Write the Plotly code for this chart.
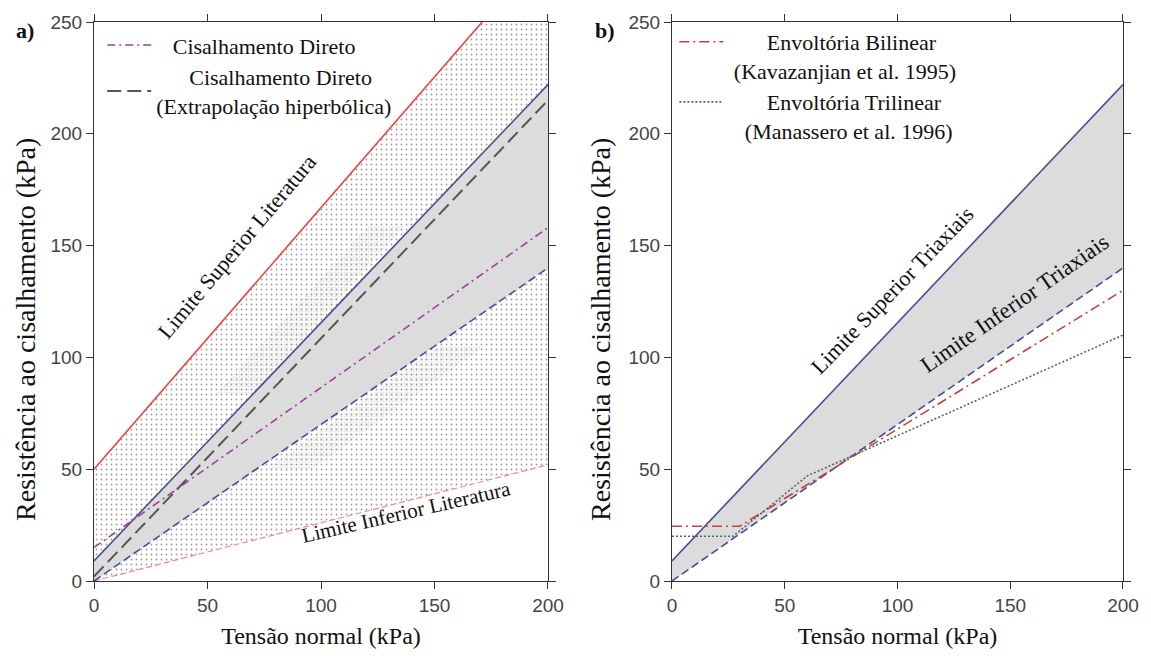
import plotly.graph_objects as go

# ---------------- data (kPa) ----------------
sigma_ends = [0, 200]                     # normal stress at line ends

# panel a)
lit_sup_x = [0, 171]                      # Limite Superior Literatura
lit_sup_y = [50, 250]
lit_inf_y = [0, 52]                       # Limite Inferior Literatura
tri_sup_y = [9, 222]                      # Limite Superior Triaxiais
tri_inf_y = [0, 140]                      # Limite Inferior Triaxiais
cd_y = [15, 158]                          # Cisalhamento Direto
cd_hip_y = [2, 215]                       # Cisalhamento Direto (extrapolação hiperbólica)

# literature region polygon (upper limit clipped at top of axis)
lit_region_x = [0, 171, 200, 200, 0]
lit_region_y = [50, 250, 250, 52, 0]

# denser dotted bands (data clouds) in panel a
band1_x = [54, 70, 137, 121]
band1_y = [84, 84, 159, 159]
band2_x = [76, 96, 172, 152]
band2_y = [50, 50, 105, 105]

# panel b)
bil_x = [0, 30, 200]                      # Envoltória Bilinear (Kavazanjian et al. 1995)
bil_y = [24.5, 24.5, 130]
tril_x = [0, 27, 60, 200]                 # Envoltória Trilinear (Manassero et al. 1996)
tril_y = [20, 20, 47, 110]

x_ticks = [0, 50, 100, 150, 200]
y_ticks = [0, 50, 100, 150, 200, 250]

SERIF = "Liberation Serif"
SANS = "Liberation Sans"

BLUE = "#4b4b96"
RED = "#e8453c"

fig = go.Figure()

def band(xs_top, ys_top, ys_bot, xa, ya, color):
    x = list(xs_top) + list(reversed(xs_top))
    y = list(ys_top) + list(reversed(ys_bot))
    return go.Scatter(x=x, y=y, fill="toself", fillcolor=color, mode="none",
                      xaxis=xa, yaxis=ya, showlegend=False, hoverinfo="skip")

# ---- panel a ----
fig.add_trace(go.Scatter(x=lit_region_x, y=lit_region_y, fill="toself", mode="none",
                         fillcolor="white",
                         fillpattern=dict(shape=".", size=5, solidity=0.1, fgcolor="#333333", bgcolor="white"),
                         xaxis="x", yaxis="y", showlegend=False, hoverinfo="skip"))
for bx, by in [(band1_x, band1_y), (band2_x, band2_y)]:
    fig.add_trace(go.Scatter(x=bx, y=by, fill="toself", mode="none",
                             fillcolor="rgba(255,255,255,0)",
                             fillpattern=dict(shape=".", size=3, solidity=0.4,
                                              fgcolor="rgba(140,140,140,0.5)",
                                              bgcolor="rgba(255,255,255,0)"),
                             xaxis="x", yaxis="y", showlegend=False, hoverinfo="skip"))
fig.add_trace(band(sigma_ends, tri_sup_y, tri_inf_y, "x", "y", "#dcdcdc"))

fig.add_trace(go.Scatter(x=sigma_ends, y=lit_inf_y, mode="lines", xaxis="x", yaxis="y",
                         line=dict(color="#f08a8a", width=1.2, dash="6px,3px"), showlegend=False))
fig.add_trace(go.Scatter(x=lit_sup_x, y=lit_sup_y, mode="lines", xaxis="x", yaxis="y",
                         line=dict(color=RED, width=1.6), showlegend=False))
fig.add_trace(go.Scatter(x=sigma_ends, y=tri_inf_y, mode="lines", xaxis="x", yaxis="y",
                         line=dict(color=BLUE, width=1.6, dash="8px,4px"), showlegend=False))
fig.add_trace(go.Scatter(x=sigma_ends, y=tri_sup_y, mode="lines", xaxis="x", yaxis="y",
                         line=dict(color=BLUE, width=1.6), showlegend=False))
fig.add_trace(go.Scatter(x=sigma_ends, y=cd_y, mode="lines", xaxis="x", yaxis="y",
                         name="&nbsp;&nbsp;&nbsp;Cisalhamento Direto", legend="legend",
                         line=dict(color="#a0409c", width=1.6, dash="8px,4px,2px,4px")))
fig.add_trace(go.Scatter(x=sigma_ends, y=cd_hip_y, mode="lines", xaxis="x", yaxis="y",
                         name="&nbsp;&nbsp;&nbsp;&nbsp;&nbsp;&nbsp;Cisalhamento Direto<br>(Extrapolação hiperbólica)",
                         legend="legend",
                         line=dict(color="#555555", width=2, dash="14px,6px")))

# ---- panel b ----
fig.add_trace(band(sigma_ends, tri_sup_y, tri_inf_y, "x2", "y2", "#dcdcdc"))
fig.add_trace(go.Scatter(x=sigma_ends, y=tri_inf_y, mode="lines", xaxis="x2", yaxis="y2",
                         line=dict(color=BLUE, width=1.6, dash="8px,4px"), showlegend=False))
fig.add_trace(go.Scatter(x=sigma_ends, y=tri_sup_y, mode="lines", xaxis="x2", yaxis="y2",
                         line=dict(color=BLUE, width=1.6), showlegend=False))
fig.add_trace(go.Scatter(x=bil_x, y=bil_y, mode="lines", xaxis="x2", yaxis="y2",
                         name="&nbsp;&nbsp;&nbsp;&nbsp;&nbsp;&nbsp;&nbsp;Envoltória Bilinear<br>&nbsp;(Kavazanjian et al. 1995)",
                         legend="legend2",
                         line=dict(color="#c8403c", width=1.6, dash="10px,4px,2px,4px")))
fig.add_trace(go.Scatter(x=tril_x, y=tril_y, mode="lines", xaxis="x2", yaxis="y2",
                         name="&nbsp;&nbsp;&nbsp;&nbsp;&nbsp;&nbsp;&nbsp;Envoltória Trilinear<br>&nbsp;&nbsp;&nbsp;(Manassero et al. 1996)",
                         legend="legend2",
                         line=dict(color="#4f6b5c", width=1.6, dash="2px,2px")))

axis_common = dict(range=[0, 200], tickvals=x_ticks, ticks="outside", ticklen=7, tickcolor="#333",
                   showline=True, linecolor="#333", linewidth=1, mirror="ticks", showgrid=False,
                   zeroline=False, tickfont=dict(family=SANS, size=19, color="#444"),
                   title=dict(text="Tensão normal (kPa)", font=dict(family=SERIF, size=24, color="#111"),
                              standoff=12))
yaxis_common = dict(range=[0, 250], tickvals=y_ticks, ticks="outside", ticklen=7, tickcolor="#333",
                    showline=True, linecolor="#333", linewidth=1, mirror="ticks", showgrid=False,
                    zeroline=False, tickfont=dict(family=SANS, size=19, color="#444"))

legend_common = dict(font=dict(family=SERIF, size=22, color="#111"), bgcolor="rgba(0,0,0,0)",
                     borderwidth=0, xanchor="left", yanchor="top", itemwidth=44)

ytitle = "Resistência ao cisalhamento (kPa)"
ytitle_font = dict(family=SERIF, size=28, color="#111")

fig.update_layout(
    width=1151, height=662,
    margin=dict(l=94, r=19, t=19, b=81),
    paper_bgcolor="white", plot_bgcolor="white",
    xaxis=dict(domain=[0, 0.4412], anchor="y", **axis_common),
    yaxis=dict(domain=[0, 1], anchor="x", **yaxis_common),
    xaxis2=dict(domain=[0.5617, 1], anchor="y2", **axis_common),
    yaxis2=dict(domain=[0, 1], anchor="x2", **yaxis_common),
    legend=dict(x=0.008, y=0.996, valign="middle", tracegroupgap=4, **legend_common),
    legend2=dict(x=0.564, y=1.002, valign="top", tracegroupgap=0, **legend_common),
    showlegend=True,
    annotations=[
        dict(text=ytitle, x=-0.0665, y=0.45, xref="paper", yref="paper", showarrow=False,
             textangle=-90, xanchor="center", yanchor="middle", font=ytitle_font),
        dict(text=ytitle, x=0.4923, y=0.45, xref="paper", yref="paper", showarrow=False,
             textangle=-90, xanchor="center", yanchor="middle", font=ytitle_font),
        dict(text="Limite Superior Literatura", x=63, y=149.5, xref="x", yref="y", showarrow=False,
             textangle=-50, font=dict(family=SERIF, size=22, color="#111")),
        dict(text="Limite Inferior Literatura", x=137.5, y=31, xref="x", yref="y", showarrow=False,
             textangle=-13, font=dict(family=SERIF, size=21, color="#111")),
        dict(text="Limite Superior Triaxiais", x=97.5, y=130, xref="x2", yref="y2", showarrow=False,
             textangle=-46, font=dict(family=SERIF, size=22, color="#111")),
        dict(text="Limite Inferior Triaxiais", x=152, y=124, xref="x2", yref="y2", showarrow=False,
             textangle=-35, font=dict(family=SERIF, size=23, color="#111")),
        dict(text="<b>a)</b>", x=-0.067, y=0.985, xref="paper", yref="paper", showarrow=False,
             xanchor="center", yanchor="middle", font=dict(family=SERIF, size=22, color="#111")),
        dict(text="<b>b)</b>", x=0.497, y=0.985, xref="paper", yref="paper", showarrow=False,
             xanchor="center", yanchor="middle", font=dict(family=SERIF, size=22, color="#111")),
    ],
)

fig.write_html("out.html")
